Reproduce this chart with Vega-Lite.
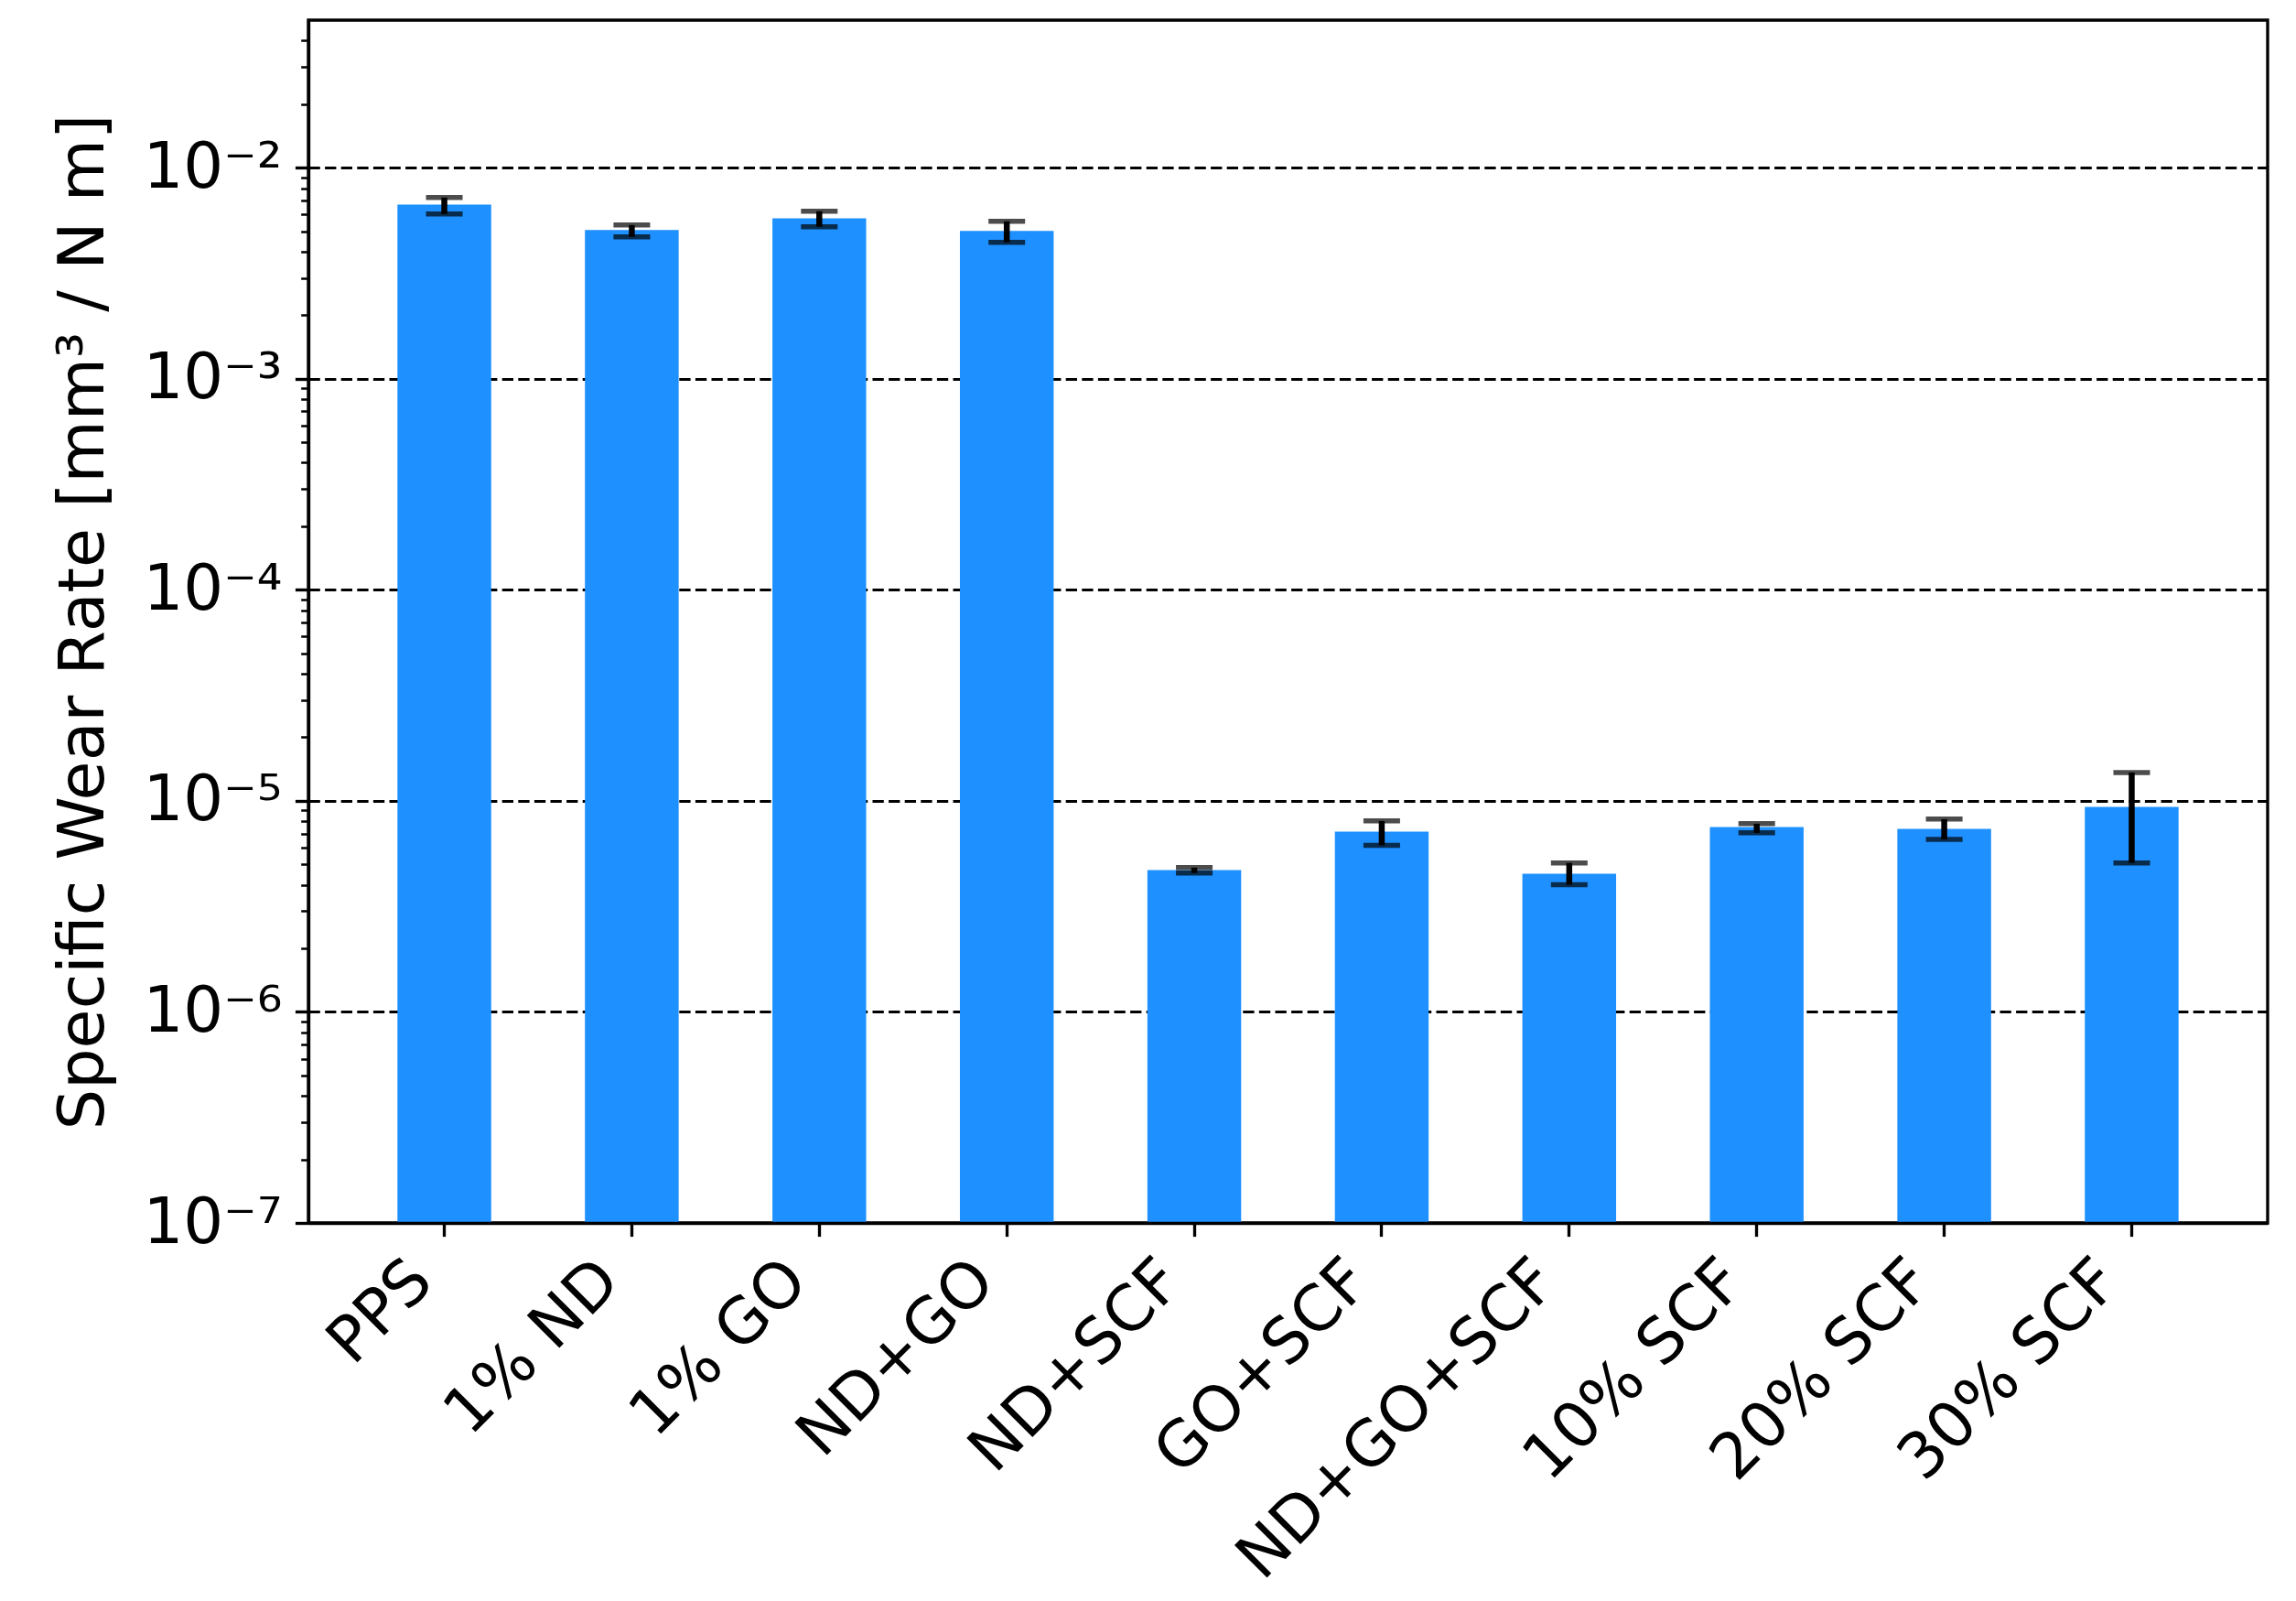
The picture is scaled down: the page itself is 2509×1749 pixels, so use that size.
{
  "$schema": "https://vega.github.io/schema/vega-lite/v6.json",
  "width": 2141,
  "height": 1314,
  "autosize": {"type": "none"},
  "padding": {"left": 337, "top": 22, "right": 31, "bottom": 413},
  "background": "white",
  "config": {
    "font": "DejaVu Sans",
    "view": {"stroke": "black", "strokeWidth": 3.33},
    "axis": {
      "labelFont": "DejaVu Sans",
      "titleFont": "DejaVu Sans",
      "labelColor": "black",
      "titleColor": "black",
      "domainColor": "black",
      "tickColor": "black",
      "domainWidth": 3.33,
      "labelFontSize": 69,
      "titleFontSize": 70,
      "titleFontWeight": "normal",
      "labelLimit": 0
    }
  },
  "data": {
    "values": [
      {"material": "PPS", "rate": 0.00669, "lo": 0.00603, "hi": 0.00722},
      {"material": "1% ND", "rate": 0.00506, "lo": 0.00470, "hi": 0.00535},
      {"material": "1% GO", "rate": 0.00576, "lo": 0.00525, "hi": 0.00622},
      {"material": "ND+GO", "rate": 0.00501, "lo": 0.00443, "hi": 0.00557},
      {"material": "ND+SCF", "rate": 0.00000470, "lo": 0.00000455, "hi": 0.00000483},
      {"material": "GO+SCF", "rate": 0.00000715, "lo": 0.00000616, "hi": 0.00000803},
      {"material": "ND+GO+SCF", "rate": 0.00000452, "lo": 0.00000400, "hi": 0.00000508},
      {"material": "10% SCF", "rate": 0.00000751, "lo": 0.00000705, "hi": 0.00000779},
      {"material": "20% SCF", "rate": 0.00000736, "lo": 0.00000656, "hi": 0.00000819},
      {"material": "30% SCF", "rate": 0.00000936, "lo": 0.00000508, "hi": 0.00001362}
    ]
  },
  "encoding": {
    "x": {
      "field": "material",
      "type": "nominal",
      "sort": null,
      "scale": {"type": "band", "paddingInner": 0.5, "paddingOuter": 0.475},
      "axis": {
        "title": null,
        "labelAngle": -45,
        "labelAlign": "right",
        "labelBaseline": "bottom",
        "labelPadding": 62,
        "tickSize": 14.6,
        "tickWidth": 3.33,
        "grid": false,
        "zindex": 1
      }
    }
  },
  "layer": [
    {
      "mark": {"type": "bar", "color": "#1E90FF"},
      "encoding": {
        "y": {
          "field": "rate",
          "type": "quantitative",
          "scale": {"type": "log", "domain": [1e-7, 0.05], "nice": false},
          "axis": {
            "title": "Specific Wear Rate [mm³ / N m]",
            "titleAngle": 270,
            "titleAlign": "center",
            "titleBaseline": "alphabetic",
            "titleX": -225,
            "titleY": 657,
            "values": [1e-7, 2e-7, 3e-7, 4e-7, 5e-7, 6e-7, 7e-7, 8e-7, 9e-7,
                       1e-6, 2e-6, 3e-6, 4e-6, 5e-6, 6e-6, 7e-6, 8e-6, 9e-6,
                       1e-5, 2e-5, 3e-5, 4e-5, 5e-5, 6e-5, 7e-5, 8e-5, 9e-5,
                       1e-4, 2e-4, 3e-4, 4e-4, 5e-4, 6e-4, 7e-4, 8e-4, 9e-4,
                       1e-3, 2e-3, 3e-3, 4e-3, 5e-3, 6e-3, 7e-3, 8e-3, 9e-3,
                       1e-2, 2e-2, 3e-2, 4e-2],
            "labelExpr": "abs(log(datum.value)/LN10 - round(log(datum.value)/LN10)) < 0.001 ? '10' + ['⁻⁷','⁻⁶','⁻⁵','⁻⁴','⁻³','⁻²','⁻¹'][round(log(datum.value)/LN10)+7] : ''",
            "labelPadding": 14.6,
            "labelBaseline": "middle",
            "tickSize": {"condition": {"test": "abs(log(datum.value)/LN10 - round(log(datum.value)/LN10)) < 0.001", "value": 14.6}, "value": 8.3},
            "tickWidth": {"condition": {"test": "abs(log(datum.value)/LN10 - round(log(datum.value)/LN10)) < 0.001", "value": 3.33}, "value": 2.5},
            "grid": true,
            "gridColor": "black",
            "gridWidth": 3.2,
            "gridDash": [12.3, 5.3],
            "gridOpacity": {"condition": {"test": "abs(log(datum.value)/LN10 - round(log(datum.value)/LN10)) < 0.001 && datum.value > 2e-7", "value": 1}, "value": 0},
            "labelOverlap": false,
            "labelFlush": false,
            "zindex": 0
          }
        },
        "y2": {"datum": 1e-7}
      }
    },
    {
      "mark": {"type": "rule", "color": "black", "strokeWidth": 6.5},
      "encoding": {
        "y": {"field": "lo", "type": "quantitative"},
        "y2": {"field": "hi"}
      }
    },
    {
      "mark": {"type": "tick", "color": "black", "thickness": 5.5, "size": 40},
      "encoding": {
        "y": {"field": "lo", "type": "quantitative"}
      }
    },
    {
      "mark": {"type": "tick", "color": "black", "thickness": 5.5, "size": 40},
      "encoding": {
        "y": {"field": "hi", "type": "quantitative"}
      }
    }
  ]
}
